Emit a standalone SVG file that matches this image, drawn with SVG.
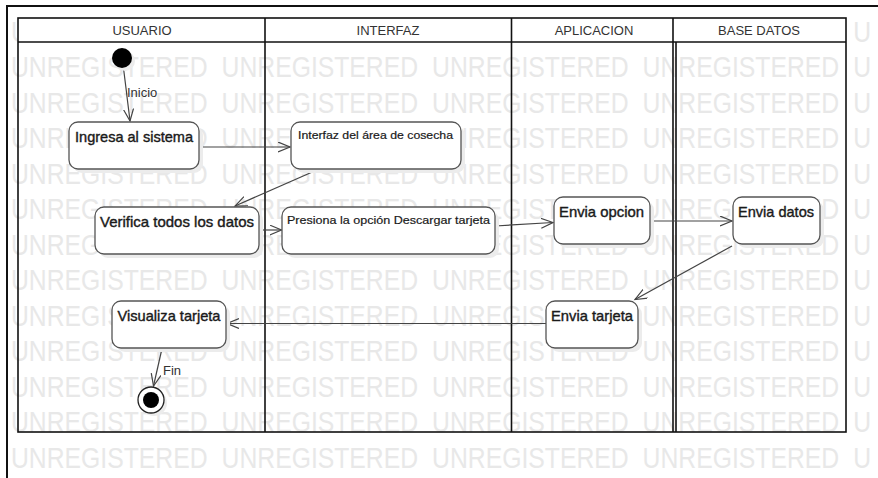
<svg xmlns="http://www.w3.org/2000/svg" width="878" height="478" viewBox="0 0 878 478">
<style>
.wm{font-family:"Liberation Sans",Arial,sans-serif;font-size:30px;fill:#e8e8e8;word-spacing:8.6px}
.lane{fill:none;stroke:#111;stroke-width:1.6}
.hd{font-family:"Liberation Sans",Arial,sans-serif;font-size:13px;fill:#333;text-anchor:middle}
.box{fill:#fff;stroke:#555;stroke-width:1.3}
.sh{fill:#ececec}
.lb{font-family:"Liberation Sans",Arial,sans-serif;font-size:15px;fill:#1a1a1a;stroke:#1a1a1a;stroke-width:0.4;text-anchor:middle}
.sm{font-family:"Liberation Sans",Arial,sans-serif;font-size:11.5px;fill:#1a1a1a;stroke:#1a1a1a;stroke-width:0.2;text-anchor:middle}
.edge{fill:none;stroke:#444;stroke-width:1.2;marker-end:url(#arr)}
.el{font-family:"Liberation Sans",Arial,sans-serif;font-size:13px;fill:#333}
</style>
<defs>
<marker id="arr" markerUnits="userSpaceOnUse" markerWidth="14" markerHeight="12" refX="12" refY="5" orient="auto">
<path d="M0,0 L12,5 L0,10" fill="none" stroke="#444" stroke-width="1.2"/>
</marker>
</defs>
<rect width="878" height="478" fill="#fff"/>
<g id="watermark">
<text class="wm" x="11" y="41.5" textLength="860" lengthAdjust="spacingAndGlyphs">UNREGISTERED UNREGISTERED UNREGISTERED UNREGISTERED U</text>
<text class="wm" x="11" y="77" textLength="860" lengthAdjust="spacingAndGlyphs">UNREGISTERED UNREGISTERED UNREGISTERED UNREGISTERED U</text>
<text class="wm" x="11" y="112.5" textLength="860" lengthAdjust="spacingAndGlyphs">UNREGISTERED UNREGISTERED UNREGISTERED UNREGISTERED U</text>
<text class="wm" x="11" y="148" textLength="860" lengthAdjust="spacingAndGlyphs">UNREGISTERED UNREGISTERED UNREGISTERED UNREGISTERED U</text>
<text class="wm" x="11" y="183.5" textLength="860" lengthAdjust="spacingAndGlyphs">UNREGISTERED UNREGISTERED UNREGISTERED UNREGISTERED U</text>
<text class="wm" x="11" y="219" textLength="860" lengthAdjust="spacingAndGlyphs">UNREGISTERED UNREGISTERED UNREGISTERED UNREGISTERED U</text>
<text class="wm" x="11" y="254.5" textLength="860" lengthAdjust="spacingAndGlyphs">UNREGISTERED UNREGISTERED UNREGISTERED UNREGISTERED U</text>
<text class="wm" x="11" y="290" textLength="860" lengthAdjust="spacingAndGlyphs">UNREGISTERED UNREGISTERED UNREGISTERED UNREGISTERED U</text>
<text class="wm" x="11" y="325.5" textLength="860" lengthAdjust="spacingAndGlyphs">UNREGISTERED UNREGISTERED UNREGISTERED UNREGISTERED U</text>
<text class="wm" x="11" y="361" textLength="860" lengthAdjust="spacingAndGlyphs">UNREGISTERED UNREGISTERED UNREGISTERED UNREGISTERED U</text>
<text class="wm" x="11" y="396.5" textLength="860" lengthAdjust="spacingAndGlyphs">UNREGISTERED UNREGISTERED UNREGISTERED UNREGISTERED U</text>
<text class="wm" x="11" y="432" textLength="860" lengthAdjust="spacingAndGlyphs">UNREGISTERED UNREGISTERED UNREGISTERED UNREGISTERED U</text>
<text class="wm" x="11" y="467.5" textLength="860" lengthAdjust="spacingAndGlyphs">UNREGISTERED UNREGISTERED UNREGISTERED UNREGISTERED U</text>
</g>
<g id="frame">
<path d="M7,478 V6 H878" fill="none" stroke="#111" stroke-width="2"/>
</g>
<g id="lanes">
<rect x="18" y="18" width="828" height="24" fill="#fff"/>
<rect class="lane" x="18" y="18" width="828" height="414"/>
<line class="lane" x1="18" y1="42" x2="846" y2="42"/>
<line class="lane" x1="265" y1="18" x2="265" y2="432"/>
<line class="lane" x1="511.5" y1="18" x2="511.5" y2="432"/>
<line class="lane" x1="673" y1="18" x2="673" y2="432"/>
<line class="lane" x1="676" y1="42" x2="676" y2="432"/>
<text class="hd" x="142" y="35">USUARIO</text>
<text class="hd" x="388" y="35">INTERFAZ</text>
<text class="hd" x="594" y="35">APLICACION</text>
<text class="hd" x="759" y="35">BASE DATOS</text>
</g>
<g id="connectors">
<path class="edge" d="M123.5,68 L130,121"/>
<text class="el" x="127" y="96.5">Inicio</text>
<path class="edge" d="M199,147 L290,147"/>
<path class="edge" d="M318,169.5 L235,206"/>
<path class="edge" d="M259,230 L281.5,230"/>
<path class="edge" d="M495,226 L553,222.5"/>
<path class="edge" d="M650,221 L732,221"/>
<path class="edge" d="M732,246 L635,299.5"/>
<path class="edge" d="M546,323.5 L227,323.5"/>
<path class="edge" d="M162,348.5 L153.5,386"/>
<text class="el" x="163" y="375">Fin</text>
</g>
<g id="start">
<circle cx="125" cy="61" r="10" class="sh"/>
<circle cx="122" cy="58" r="10" fill="#000"/>
</g>
<g id="n1">
<rect class="sh" x="73" y="126" width="130" height="47" rx="9"/>
<rect class="box" x="69" y="122" width="130" height="47" rx="9"/>
<text class="lb" x="134" y="141.5" textLength="118" lengthAdjust="spacingAndGlyphs">Ingresa al sistema</text>
</g>
<g id="n2">
<rect class="sh" x="295" y="126" width="170" height="47" rx="9"/>
<rect class="box" x="291" y="122" width="170" height="47" rx="9"/>
<text class="sm" x="375.5" y="139" textLength="155" lengthAdjust="spacingAndGlyphs">Interfaz del área de cosecha</text>
</g>
<g id="n3">
<rect class="sh" x="99" y="211" width="164" height="47" rx="9"/>
<rect class="box" x="95" y="207" width="164" height="47" rx="9"/>
<text class="lb" x="177" y="226.5" textLength="154" lengthAdjust="spacingAndGlyphs">Verifica todos los datos</text>
</g>
<g id="n4">
<rect class="sh" x="286" y="211" width="213" height="47" rx="9"/>
<rect class="box" x="282" y="207" width="213" height="47" rx="9"/>
<text class="sm" x="388.5" y="224" textLength="203" lengthAdjust="spacingAndGlyphs">Presiona la opción Descargar tarjeta</text>
</g>
<g id="n5">
<rect class="sh" x="558" y="201" width="96" height="47" rx="9"/>
<rect class="box" x="554" y="197" width="96" height="47" rx="9"/>
<text class="lb" x="601.5" y="216.5" textLength="85" lengthAdjust="spacingAndGlyphs">Envia opcion</text>
</g>
<g id="n6">
<rect class="sh" x="737" y="201" width="87" height="47" rx="9"/>
<rect class="box" x="733" y="197" width="87" height="47" rx="9"/>
<text class="lb" x="776" y="216.5" textLength="76" lengthAdjust="spacingAndGlyphs">Envia datos</text>
</g>
<g id="n7">
<rect class="sh" x="550" y="305" width="92" height="47" rx="9"/>
<rect class="box" x="546" y="301" width="92" height="47" rx="9"/>
<text class="lb" x="592" y="320.5" textLength="82" lengthAdjust="spacingAndGlyphs">Envia tarjeta</text>
</g>
<g id="n8">
<rect class="sh" x="116" y="305" width="114" height="47" rx="9"/>
<rect class="box" x="112" y="301" width="114" height="47" rx="9"/>
<text class="lb" x="169" y="320.5" textLength="103" lengthAdjust="spacingAndGlyphs">Visualiza tarjeta</text>
</g>
<g id="end">
<circle cx="154" cy="403" r="13" class="sh"/>
<circle cx="151" cy="400" r="13" fill="#fff" stroke="#222" stroke-width="1.3"/>
<circle cx="151" cy="400" r="8" fill="#000"/>
</g>
</svg>
